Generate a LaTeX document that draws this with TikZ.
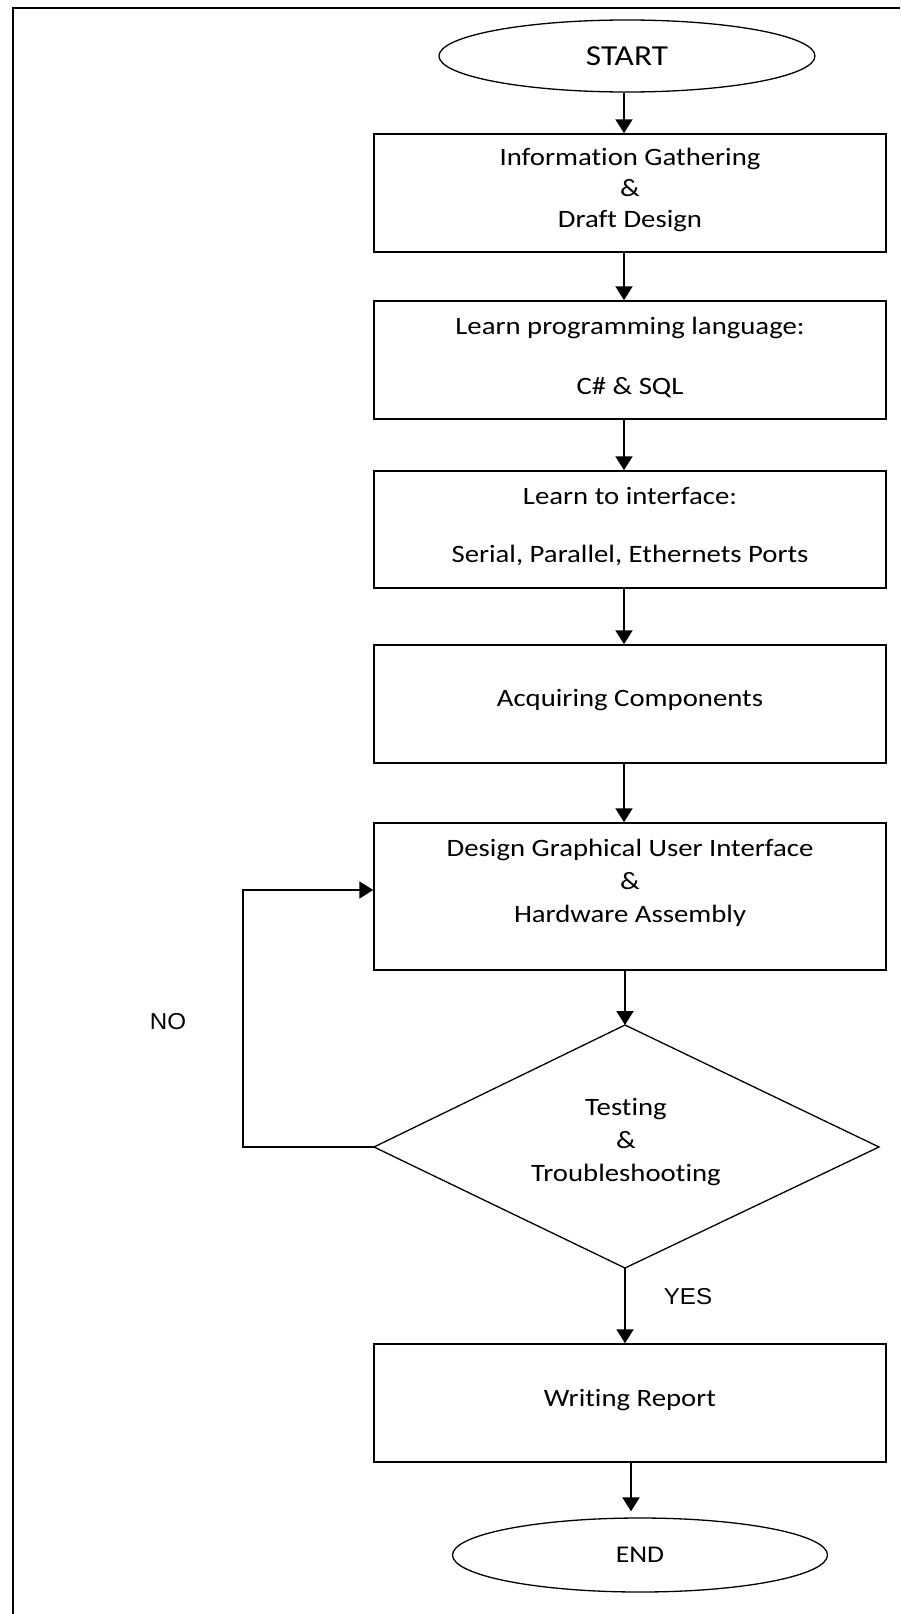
\documentclass[tikz,border=0pt]{standalone}
\usepackage{fontspec}
\setmainfont{Carlito}[FakeStretch=1.15,Ligatures={NoCommon}]
\newfontfamily\yesnofont{Liberation Sans}[FakeStretch=1.05]
\usetikzlibrary{arrows.meta,shapes.geometric}
\begin{document}
\begin{tikzpicture}[x=1pt,y=-1pt,
  box/.style={draw, line width=1.5pt, rectangle, minimum width=512pt, inner sep=0pt},
  term/.style={draw, line width=1.3pt, ellipse, inner sep=0pt},
  txt/.style={align=center, inner sep=0pt, font=\fontsize{25}{31}\selectfont},
  yn/.style={inner sep=0pt, font=\yesnofont\fontsize{23}{28}\selectfont},
  arr/.style={line width=2pt, -{Triangle[length=14pt,width=17pt]}},
  dia/.style={line width=1.3pt, line join=miter},
  frame/.style={line width=2pt}
]
\useasboundingbox (0,0) rectangle (900,1614);
\draw[frame] (12.7,1614) -- (12.7,8.3) -- (900,8.3);

% terminals
\node[term, minimum width=376pt, minimum height=72pt, font=\fontsize{29}{34}\selectfont] (start) at (627,56) {START};
\node[term, minimum width=375pt, minimum height=74pt, font=\fontsize{24}{28}\selectfont] (end) at (640,1555) {END};

% boxes
\node[box, minimum height=118pt] (b1) at (630,193) {};
\node[box, minimum height=118pt] (b2) at (630,360) {};
\node[box, minimum height=117pt] (b3) at (630,529.5) {};
\node[box, minimum height=118pt] (b4) at (630,704) {};
\node[box, minimum height=147pt] (b5) at (630,896.5) {};
\node[box, minimum height=118pt] (b6) at (630,1403) {};

% box texts
\node[txt] (t1) at (630,190) {Information Gathering\\\&\\Draft Design};
\node[txt] (t2) at (630,357) {Learn programming language:\\[29pt]C\# \& SQL};
\node[txt] (t3) at (630,526) {Learn to interface:\\[27pt]Serial, Parallel, Ethernets Ports};
\node[txt] (t4) at (630,700) {Acquiring Components};
\node[txt] (t5) at (630,883) {Design Graphical User Interface\\[2pt]\&\\[2pt]Hardware Assembly};
\node[txt] (t6) at (630,1400) {Writing Report};

% decision
\coordinate (dT) at (625,1025);
\coordinate (dB) at (625,1268);
\coordinate (dL) at (374,1147);
\coordinate (dR) at (879,1147);
\draw[dia] (dT) -- (dR) -- (dB) -- (dL) -- cycle;
\node[txt] (td) at (626,1142) {Testing\\[2pt]\&\\[2pt]Troubleshooting};

% labels
\node[yn] (no) at (168,1022) {NO};
\node[yn] (yes) at (688,1297) {YES};

% connectors
\coordinate (ax) at (624,0);
\coordinate (bx) at (631,0);
\coordinate (lp) at (243,0);
\coordinate (ly) at (0,890);
\draw[arr] (start.south -| ax) -- (b1.north -| ax);
\draw[arr] (b1.south -| ax) -- (b2.north -| ax);
\draw[arr] (b2.south -| ax) -- (b3.north -| ax);
\draw[arr] (b3.south -| ax) -- (b4.north -| ax);
\draw[arr] (b4.south -| ax) -- (b5.north -| ax);
\draw[arr] (b5.south -| dT) -- (dT);
\draw[arr] (dB) -- (b6.north -| dB);
\draw[arr, shorten >=6pt] (b6.south -| bx) -- (end.north -| bx);
\draw[arr] (dL) -- (dL -| lp) -- (lp |- ly) -- (b5.west |- ly);
\end{tikzpicture}
\end{document}
